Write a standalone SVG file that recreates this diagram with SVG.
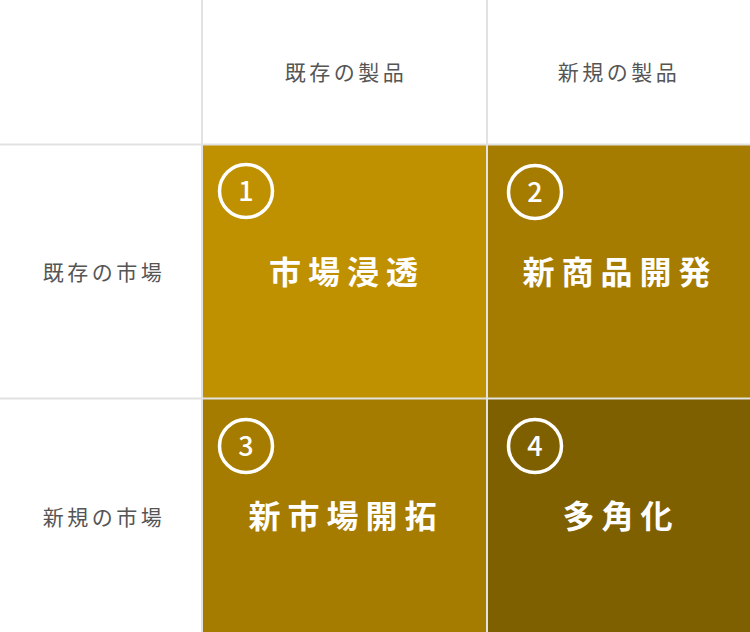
<svg xmlns="http://www.w3.org/2000/svg" width="750" height="632" viewBox="0 0 750 632">
<style>
.hdr{font-family:"Noto Sans CJK JP","Noto Sans",sans-serif;font-size:21px;fill:#555;text-anchor:middle;letter-spacing:3.5px}
.ttl{font-family:"Noto Sans CJK JP","Noto Sans",sans-serif;font-size:32px;font-weight:bold;fill:#fff;text-anchor:middle;letter-spacing:7px}
.num{font-family:"Noto Sans CJK JP","Noto Sans",sans-serif;font-size:27px;font-weight:500;fill:#fff;text-anchor:middle}
.ring{fill:none;stroke:#fff;stroke-width:3.5}
.grid{stroke:#e2e2e2;stroke-width:2;fill:none}
</style>
<rect width="750" height="632" fill="#fff"/>
<g id="cells">
<g id="cell1"><rect x="202" y="145" width="285" height="254" fill="#BF9000"/><circle class="ring" cx="246" cy="191" r="26.5"/><text class="num" x="246" y="200.5">1</text><text class="ttl" x="347" y="284">市場浸透</text></g>
<g id="cell2"><rect x="487" y="145" width="263" height="254" fill="#A57C00"/><circle class="ring" cx="535" cy="192" r="26.5"/><text class="num" x="535" y="201.5">2</text><text class="ttl" x="620" y="284">新商品開発</text></g>
<g id="cell3"><rect x="202" y="399" width="285" height="233" fill="#A57C00"/><circle class="ring" cx="246" cy="446" r="26.5"/><text class="num" x="246" y="455.5">3</text><text class="ttl" x="346" y="528">新市場開拓</text></g>
<g id="cell4"><rect x="487" y="399" width="263" height="233" fill="#7F6000"/><circle class="ring" cx="535" cy="446" r="26.5"/><text class="num" x="535" y="455.5">4</text><text class="ttl" x="621" y="528">多角化</text></g>
</g>
<g id="connectors">
<line class="grid" x1="202" y1="0" x2="202" y2="632"/>
<line class="grid" x1="487" y1="0" x2="487" y2="632"/>
<line class="grid" x1="0" y1="144.5" x2="750" y2="144.5"/>
<line class="grid" x1="0" y1="398.5" x2="750" y2="398.5"/>
</g>
<g id="headers">
<text id="h1" class="hdr" x="346" y="79.5">既存の製品</text>
<text id="h2" class="hdr" x="619" y="79.5">新規の製品</text>
<text id="r1" class="hdr" x="104" y="279.5">既存の市場</text>
<text id="r2" class="hdr" x="104" y="524.5">新規の市場</text>
</g>
</svg>
